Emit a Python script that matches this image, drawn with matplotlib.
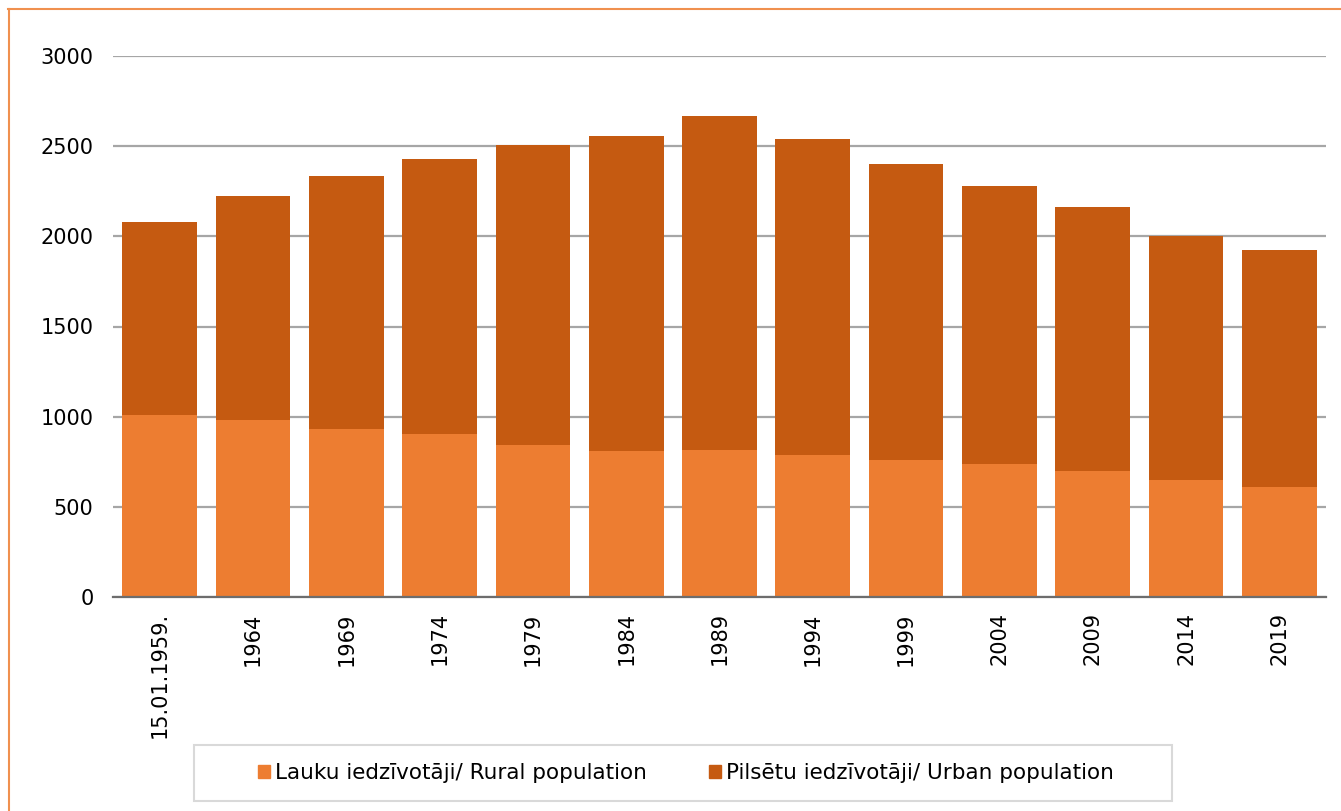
import matplotlib
matplotlib.use("Agg")
import matplotlib.pyplot as plt
from matplotlib.patches import Patch, Rectangle
from matplotlib.lines import Line2D
import numpy as np

years = ['15.01.1959.', '1964', '1969', '1974', '1979', '1984', '1989',
         '1994', '1999', '2004', '2009', '2014', '2019']
rural = [1010, 981, 932, 904, 843, 810, 815, 787, 760, 738, 699, 649, 610]
total = [2080, 2224, 2335, 2429, 2506, 2556, 2667, 2540, 2401, 2279, 2163, 2002, 1924]
urban = [t - r for t, r in zip(total, rural)]

rural_col = '#ED7D31'
urban_col = '#C55A11'

fig = plt.figure(figsize=(13.41, 8.11), dpi=100)
ax = fig.add_axes([113/1341, 1-597/811, (1326-113)/1341, (597-56)/811])

x = np.arange(len(years))
ax.bar(x, rural, width=0.8, color=rural_col, zorder=3)
ax.bar(x, urban, width=0.8, bottom=rural, color=urban_col, zorder=3)

ax.set_xlim(-0.5, len(years)-0.5)
ax.set_ylim(0, 3000)
ax.set_yticks(np.arange(0, 3001, 500))
ax.yaxis.grid(True, color='#A6A6A6', linewidth=1.6, zorder=0)
ax.set_xticks(x)
ax.set_xticklabels(years, rotation=90, fontsize=15)
ax.tick_params(axis='y', labelsize=15, length=0, pad=14)
ax.tick_params(axis='x', length=0, pad=11)
for s in ['left', 'top', 'right']:
    ax.spines[s].set_visible(False)
ax.spines['bottom'].set_color('#6D6D6D')
ax.spines['bottom'].set_linewidth(1.6)
ax.spines['bottom'].set_zorder(4)

# legend box
fig.patches.append(Rectangle((194/1341, 1-801/811), (1172-194)/1341, 56/811,
                             transform=fig.transFigure, fill=False,
                             edgecolor='#D9D9D9', linewidth=1.5))
handles = [Patch(color=rural_col, label='Lauku iedzīvotāji/ Rural population'),
           Patch(color=urban_col, label='Pilsētu iedzīvotāji/ Urban population')]
fig.legend(handles=handles, loc='center', bbox_to_anchor=(686/1341, 1-773/811),
           ncol=2, frameon=False, fontsize=15.5, handlelength=0.55, handleheight=0.55,
           handletextpad=0.25, columnspacing=2.9)

# orange outer border
fig.add_artist(Line2D([8/1341, 1], [1-9/811, 1-9/811], transform=fig.transFigure,
                      color='#F0904F', linewidth=1.5))
fig.add_artist(Line2D([9/1341, 9/1341], [0, 1-9/811], transform=fig.transFigure,
                      color='#F0904F', linewidth=1.5))

plt.savefig('out.png', dpi=100)
